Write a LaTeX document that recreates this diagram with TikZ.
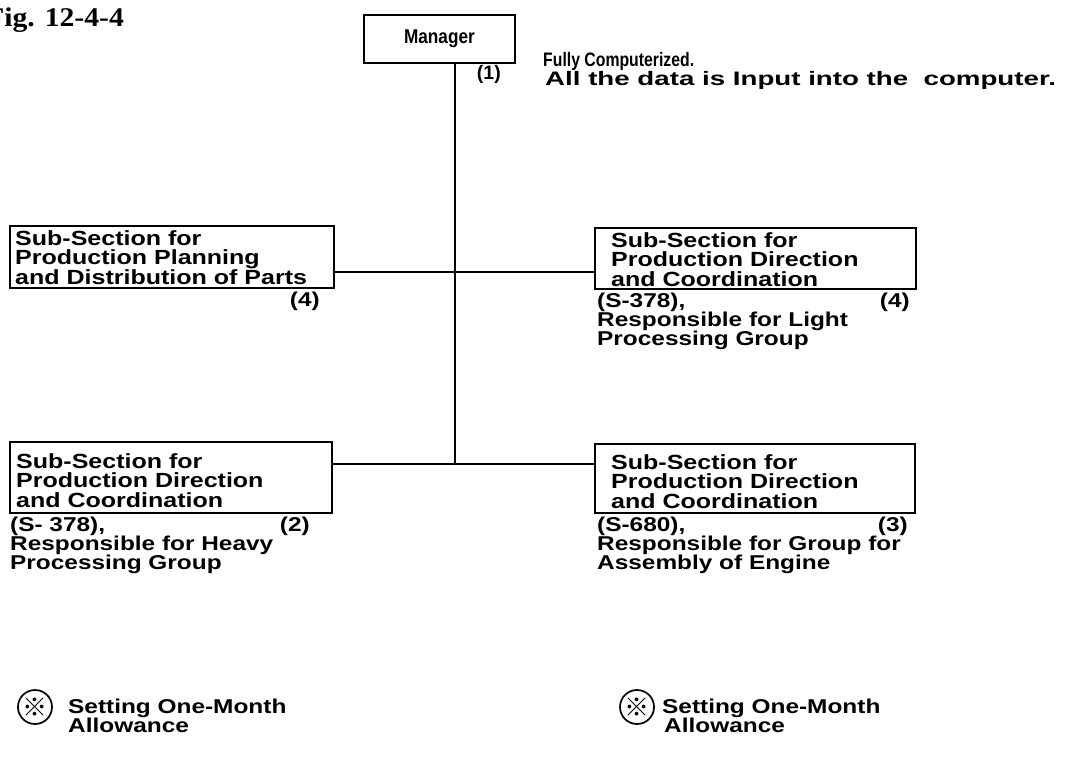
\documentclass[tikz,border=0pt]{standalone}
\usepackage{fontspec}
\setmainfont{Liberation Sans}
\newfontfamily\widefont{Liberation Sans}[FakeStretch=1.22]
\newfontfamily\plainfont{Liberation Sans}
\newfontfamily\figfont{Liberation Serif}[FakeStretch=1.1]
\newfontfamily\cjk{Noto Sans CJK JP}
\begin{document}
\begin{tikzpicture}[x=1pt, y=-1pt,
  box/.style={draw, line width=1.8pt, anchor=north west, inner sep=0pt},
  boxtext/.style={inner sep=0pt, anchor=base west, text height=14pt, text depth=4pt,
    font=\widefont\bfseries\fontsize{20.5}{19.3}\selectfont},
  lab/.style={inner sep=0pt, anchor=base west, text height=14pt, text depth=4pt,
    font=\widefont\bfseries\fontsize{20}{19}\selectfont},
  toptext/.style={inner sep=0pt, anchor=base west, text height=14pt, text depth=4pt,
    font=\plainfont\bfseries\fontsize{19.5}{19}\selectfont},
  link/.style={line width=1.4pt},
  refmark/.style={draw, circle, line width=1.7pt, minimum size=34pt, inner sep=0pt,
    font=\cjk\fontsize{25}{25}\selectfont}]
\useasboundingbox (0,0) rectangle (1070,757);

% title
\node[inner sep=0pt, anchor=base west, font=\figfont\bfseries\fontsize{27}{27}\selectfont]
  (fig) at (-14,27) {Fig. 12-4-4};

% boxes
\node[box, minimum width=151pt, minimum height=48pt,
  font=\plainfont\bfseries\fontsize{20}{20}\selectfont] (mgr) at (363,14)
  {\scalebox{0.86}[1]{Manager}};
\node[box, minimum width=324pt, minimum height=62pt] (pp) at (9,225) {};
\node[box, minimum width=321pt, minimum height=61pt] (rt) at (594,227) {};
\node[box, minimum width=322pt, minimum height=71pt] (lb) at (9,441) {};
\node[box, minimum width=320pt, minimum height=69pt] (rb) at (594,443) {};

% box texts, one node per line
\node[boxtext] (pp1) at (15,245) {Sub-Section for};
\node[boxtext] (pp2) at (15,264.5) {Production Planning};
\node[boxtext] (pp3) at (15,284) {and Distribution of Parts};

\node[boxtext] (rt1) at (611,247) {Sub-Section for};
\node[boxtext] (rt2) at (611,266.5) {Production Direction};
\node[boxtext] (rt3) at (611,286) {and Coordination};

\node[boxtext] (lb1) at (16,468) {Sub-Section for};
\node[boxtext] (lb2) at (16,487.5) {Production Direction};
\node[boxtext] (lb3) at (16,507) {and Coordination};

\node[boxtext] (rb1) at (611,469) {Sub-Section for};
\node[boxtext] (rb2) at (611,488.5) {Production Direction};
\node[boxtext] (rb3) at (611,508) {and Coordination};

% connectors
\coordinate (jtop) at (455,272);
\coordinate (jbot) at (455,464);
\draw[link] (mgr.south -| jtop) -- (jbot);
\draw[link] (pp.east |- jtop) -- (rt.west |- jtop);
\draw[link] (lb.east |- jbot) -- (rb.west |- jbot);

% labels next to the manager
\node[toptext, anchor=base east] (n1) at (501,80) {(1)};
\node[toptext] (fc1) at (543,67) {\scalebox{0.81}[1]{Fully Computerized.}};
\node[toptext] (fc2) at (545,86) {\scalebox{1.42}[1]{All the data is Input into the\ \ computer.}};

% labels under the boxes
\node[lab, anchor=base east] (pp4) at (320,306) {(4)};

\node[lab] (rta) at (597,307) {(S-378),};
\node[lab, anchor=base east] (rt4) at (910,307) {(4)};
\node[lab] (rtb) at (597,326) {Responsible for Light};
\node[lab] (rtc) at (597,345) {Processing Group};

\node[lab] (lba) at (10,531) {(S- 378),};
\node[lab, anchor=base east] (lbn) at (310,531) {(2)};
\node[lab] (lbb) at (10,550) {Responsible for Heavy};
\node[lab] (lbc) at (10,569) {Processing Group};

\node[lab] (rba) at (597,531) {(S-680),};
\node[lab, anchor=base east] (rbn) at (908,531) {(3)};
\node[lab] (rbb) at (597,550) {Responsible for Group for};
\node[lab] (rbc) at (597,569) {Assembly of Engine};

% allowance notes
\node[refmark] (m1) at (35,707) {※};
\node[lab] (s1a) at (68,713) {Setting One-Month};
\node[lab] (s1b) at (68,732) {Allowance};
\node[refmark] (m2) at (637,707) {※};
\node[lab] (s2a) at (662,713) {Setting One-Month};
\node[lab] (s2b) at (664,732) {Allowance};
\end{tikzpicture}
\end{document}
